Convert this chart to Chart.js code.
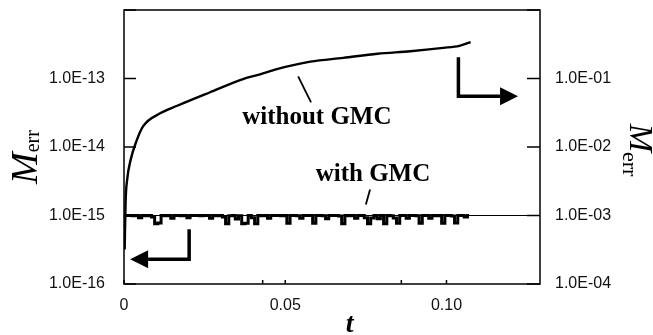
<!DOCTYPE html>
<html>
<head>
<meta charset="utf-8">
<script src="https://cdn.jsdelivr.net/npm/chart.js@4/dist/chart.umd.min.js"></script>
<style>
html,body{margin:0;padding:0;background:#fff;}
canvas{display:block;}
</style>
</head>
<body>
<canvas id="c" width="653" height="335"></canvas>
<script>
// ---- data ----
const withoutT = [0.0002, 0.0005, 0.001, 0.0021, 0.0038, 0.0059, 0.0112, 0.0165, 0.0267, 0.0369, 0.0422, 0.0474, 0.0578, 0.068, 0.0786, 0.0888, 0.099, 0.1040, 0.1075];
const withoutV = [3.2e-16, 1.6e-15, 3.4e-15, 6.6e-15, 1.2e-14, 2.0e-14, 3.1e-14, 4.0e-14, 6.3e-14, 9.8e-14, 1.15e-13, 1.37e-13, 1.76e-13, 2.0e-13, 2.3e-13, 2.5e-13, 2.8e-13, 3.0e-13, 3.4e-13];

const withT = [0.000,0.001,0.002,0.003,0.004,0.005,0.006,0.007,0.008,0.009,
 0.010,0.011,0.012,0.013,0.014,0.015,0.016,0.017,0.018,0.019,
 0.020,0.021,0.022,0.023,0.024,0.025,0.026,0.027,0.028,0.029,
 0.030,0.031,0.032,0.033,0.034,0.035,0.036,0.037,0.038,0.039,
 0.040,0.041,0.042,0.043,0.044,0.045,0.046,0.047,0.048,0.049,
 0.050,0.051,0.052,0.053,0.054,0.055,0.056,0.057,0.058,0.059,
 0.060,0.061,0.062,0.063,0.064,0.065,0.066,0.067,0.068,0.069,
 0.070,0.071,0.072,0.073,0.074,0.075,0.076,0.077,0.078,0.079,
 0.080,0.081,0.082,0.083,0.084,0.085,0.086,0.087,0.088,0.089,
 0.090,0.091,0.092,0.093,0.094,0.095,0.096,0.097,0.098,0.099,
 0.100,0.101,0.102,0.103,0.104,0.105,0.106,0.107];
const withV = [1.00e-15,1.00e-15,1.00e-15,0.99e-15,1.00e-15,0.93e-15,1.00e-15,0.99e-15,1.00e-15,0.95e-15,
 0.76e-15,0.78e-15,1.00e-15,0.99e-15,1.00e-15,0.91e-15,1.00e-15,1.00e-15,0.99e-15,1.00e-15,
 0.93e-15,1.00e-15,1.00e-15,1.00e-15,0.99e-15,1.00e-15,1.00e-15,0.91e-15,1.00e-15,0.99e-15,
 1.00e-15,0.95e-15,0.76e-15,0.99e-15,1.00e-15,0.89e-15,0.99e-15,0.76e-15,0.77e-15,1.00e-15,
 0.93e-15,0.76e-15,1.00e-15,0.99e-15,1.00e-15,0.91e-15,1.00e-15,1.00e-15,1.00e-15,0.99e-15,
 1.00e-15,0.77e-15,1.00e-15,1.00e-15,0.99e-15,0.91e-15,1.00e-15,1.00e-15,1.00e-15,0.77e-15,
 1.00e-15,1.00e-15,0.99e-15,0.90e-15,1.00e-15,1.00e-15,1.00e-15,0.98e-15,0.76e-15,1.00e-15,
 0.99e-15,1.00e-15,0.91e-15,1.00e-15,1.00e-15,0.93e-15,0.76e-15,0.92e-15,1.00e-15,0.90e-15,
 1.00e-15,0.76e-15,1.00e-15,0.99e-15,0.92e-15,0.77e-15,1.00e-15,1.00e-15,0.91e-15,1.00e-15,
 1.00e-15,0.99e-15,0.77e-15,1.00e-15,1.00e-15,0.91e-15,1.00e-15,0.99e-15,1.00e-15,0.77e-15,
 1.00e-15,1.00e-15,0.98e-15,0.78e-15,1.00e-15,1.00e-15,0.95e-15,1.00e-15];

// ticks
const xTicks = [0, 0.05, 0.10];
const xTickLabels = ['0', '0.05', '0.10'];
const xExtraTicks = [0.043, 0.086];
const leftTicks = [1e-16, 1e-15, 1e-14, 1e-13, 1e-12];
const rightTicks = [1e-4, 1e-3, 1e-2, 1e-1, 1];
const rightRefLine = 1e-3;

// annotations (data coordinates: t, log10 of left value)
const labelWithout = {text: 'without GMC', t: 0.0598, lg: -13.57};
const labelWith = {text: 'with GMC', t: 0.0772, lg: -14.40};
const leaderWithout = [[0.054, -12.97], [0.058, -13.35]];
const leaderWith = [[0.0763, -14.62], [0.0750, -14.84]];
const arrowLeft = [[0.0202, -15.20], [0.0202, -15.64], [0.0019, -15.64]];
const arrowRight = [[0.1037, -12.69], [0.1037, -13.26], [0.1222, -13.26]];

function fmtExp(v) {
  const e = Math.round(Math.log10(v));
  const a = Math.abs(e);
  return '1.0E' + (e < 0 ? '-' : '+') + (a < 10 ? '0' + a : '' + a);
}

const tickFont = {family: "'Liberation Sans', Arial, sans-serif", size: 16};

function noPad(s) { s.paddingTop = 0; s.paddingBottom = 0; s.paddingLeft = 0; s.paddingRight = 0; }

const decor = {
  id: 'decor',
  afterDraw(chart) {
    const ctx = chart.ctx;
    const a = chart.chartArea;
    const xs = chart.scales.x, ys = chart.scales.y, y2 = chart.scales.y2;
    const P = (t, lg) => [xs.getPixelForValue(t), ys.getPixelForValue(Math.pow(10, lg))];
    ctx.save();
    ctx.strokeStyle = '#000';
    ctx.fillStyle = '#000';
    // frame
    ctx.lineWidth = 1.5;
    ctx.strokeRect(a.left, a.top, a.right - a.left, a.bottom - a.top);
    // reference line across plot
    ctx.lineWidth = 1.2;
    const ry = y2.getPixelForValue(rightRefLine);
    ctx.beginPath(); ctx.moveTo(a.left, ry); ctx.lineTo(a.right, ry); ctx.stroke();
    // inward ticks
    ctx.lineWidth = 1.5;
    leftTicks.forEach(v => {
      const y = ys.getPixelForValue(v);
      ctx.beginPath(); ctx.moveTo(a.left, y); ctx.lineTo(a.left + 12, y); ctx.stroke();
    });
    rightTicks.forEach(v => {
      const y = y2.getPixelForValue(v);
      ctx.beginPath(); ctx.moveTo(a.right, y); ctx.lineTo(a.right - 13, y); ctx.stroke();
    });
    xTicks.concat(xExtraTicks).forEach(v => {
      const x = xs.getPixelForValue(v);
      ctx.beginPath(); ctx.moveTo(x, a.bottom); ctx.lineTo(x, a.bottom - 4); ctx.stroke();
    });
    // leaders
    ctx.lineWidth = 1.8;
    [leaderWithout, leaderWith].forEach(L => {
      const p0 = P(L[0][0], L[0][1]), p1 = P(L[1][0], L[1][1]);
      ctx.beginPath(); ctx.moveTo(p0[0], p0[1]); ctx.lineTo(p1[0], p1[1]); ctx.stroke();
    });
    // arrows
    ctx.lineWidth = 3.5;
    ctx.lineJoin = 'miter';
    [arrowLeft, arrowRight].forEach(A => {
      const pts = A.map(q => P(q[0], q[1]));
      const tip = pts[2], prev = pts[1];
      const dir = Math.sign(tip[0] - prev[0]);
      const headLen = 18, headHalf = 9;
      ctx.beginPath();
      ctx.moveTo(pts[0][0], pts[0][1]);
      ctx.lineTo(pts[1][0], pts[1][1]);
      ctx.lineTo(tip[0] - dir * headLen, tip[1]);
      ctx.stroke();
      ctx.beginPath();
      ctx.moveTo(tip[0], tip[1]);
      ctx.lineTo(tip[0] - dir * headLen, tip[1] - headHalf);
      ctx.lineTo(tip[0] - dir * headLen, tip[1] + headHalf);
      ctx.closePath(); ctx.fill();
    });
    // annotation labels
    ctx.font = "bold 25px 'Liberation Serif', 'Times New Roman', serif";
    ctx.textAlign = 'center';
    ctx.textBaseline = 'middle';
    [labelWithout, labelWith].forEach(L => {
      const p = P(L.t, L.lg);
      ctx.fillText(L.text, p[0], p[1]);
    });
    // x title
    ctx.font = "italic bold 28px 'Liberation Serif', 'Times New Roman', serif";
    ctx.textBaseline = 'alphabetic';
    ctx.fillText('t', xs.getPixelForValue(0.070), a.bottom + 48);
    // left y title
    const mFontL = "italic 38px 'Liberation Serif', serif";
    const eFontL = "20px 'Liberation Serif', serif";
    ctx.save();
    ctx.translate(37, (a.top + a.bottom) / 2 + 10);
    ctx.rotate(-Math.PI / 2);
    ctx.textAlign = 'left';
    ctx.font = mFontL; const wM = ctx.measureText('M').width;
    ctx.font = eFontL; const wE = ctx.measureText('err').width;
    let x0 = -(wM + wE) / 2;
    ctx.font = mFontL; ctx.fillText('M', x0, 0);
    ctx.font = eFontL; ctx.fillText('err', x0 + wM, 2);
    ctx.restore();
    // right y title
    const mFontR = "italic 34px 'Liberation Serif', serif";
    const eFontR = "22px 'Liberation Serif', serif";
    ctx.save();
    ctx.translate(630, 150);
    ctx.rotate(Math.PI / 2);
    ctx.textAlign = 'left';
    ctx.font = mFontR; const wM2 = ctx.measureText('M').width;
    ctx.font = eFontR; const wE2 = ctx.measureText('err').width;
    x0 = -(wM2 + wE2) / 2;
    ctx.font = mFontR; ctx.fillText('M', x0, 0);
    ctx.font = eFontR; ctx.fillText('err', x0 + wM2, 7);
    ctx.restore();
    ctx.restore();
  }
};

new Chart(document.getElementById('c'), {
  type: 'line',
  data: {
    datasets: [
      {
        label: 'without GMC',
        data: withoutT.map((t, i) => ({x: t, y: withoutV[i]})),
        borderColor: '#000', borderWidth: 2.4, pointRadius: 0,
        cubicInterpolationMode: 'monotone', yAxisID: 'y'
      },
      {
        label: 'with GMC',
        data: withT.map((t, i) => ({x: t, y: withV[i]})),
        borderColor: '#000', borderWidth: 3, pointRadius: 0,
        stepped: 'middle', yAxisID: 'y'
      }
    ]
  },
  options: {
    responsive: false,
    animation: false,
    devicePixelRatio: 1,
    layout: {padding: {top: 10, left: 0, right: 0, bottom: 0}},
    plugins: {legend: {display: false}, tooltip: {enabled: false}},
    scales: {
      x: {
        type: 'linear', position: 'bottom', min: 0, max: 0.129,
        afterBuildTicks: s => { s.ticks = xTicks.map(v => ({value: v})); },
        afterFit: s => { s.height = 51; noPad(s); },
        grid: {display: false}, border: {display: false},
        ticks: {
          font: tickFont, color: '#111', padding: 4, maxRotation: 0, autoSkip: false,
          callback: (v) => { const i = xTicks.indexOf(v); return i >= 0 ? xTickLabels[i] : ''; }
        }
      },
      y: {
        type: 'logarithmic', position: 'left', min: 1e-16, max: 1e-12,
        afterBuildTicks: s => { s.ticks = leftTicks.map(v => ({value: v})); },
        afterFit: s => { s.width = 124; noPad(s); },
        grid: {display: false}, border: {display: false},
        ticks: {
          font: tickFont, color: '#111', padding: 11, autoSkip: false,
          callback: (v) => v >= 1e-12 * 0.99 ? '' : fmtExp(v)
        }
      },
      y2: {
        type: 'logarithmic', position: 'right', min: 1e-4, max: 1,
        afterBuildTicks: s => { s.ticks = rightTicks.map(v => ({value: v})); },
        afterFit: s => { s.width = 113; noPad(s); },
        grid: {display: false}, border: {display: false},
        ticks: {
          font: tickFont, color: '#111', padding: 7, autoSkip: false,
          callback: (v) => v >= 0.99 ? '' : fmtExp(v)
        }
      }
    }
  },
  plugins: [decor]
});
</script>
</body>
</html>
